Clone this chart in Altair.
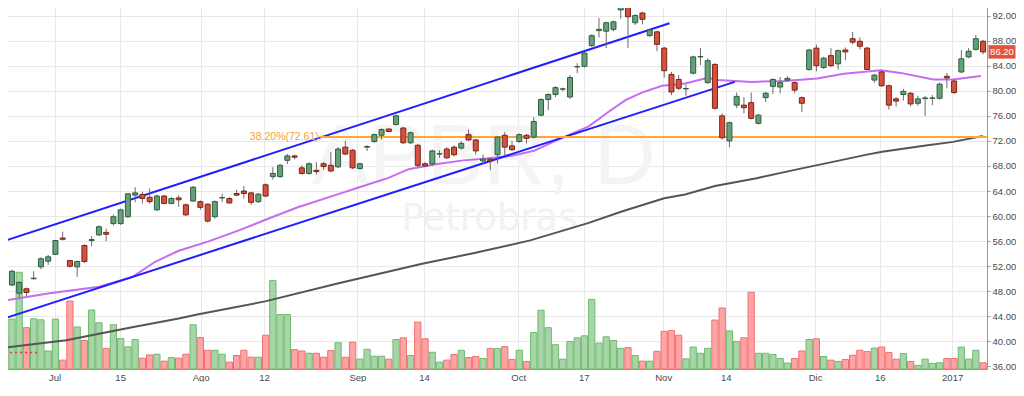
import altair as alt
import pandas as pd

# ---------------- data ----------------
opens = [49.0, 49.0, 47.7, 48.4, 50.0, 51.9, 52.8, 53.9, 56.5, 52.9,
         51.9, 55.3, 56.1, 57.0, 57.4, 58.8, 58.8, 59.9, 63.35, 63.46,
         63.0, 61.0, 63.2, 62.0, 62.9, 61.8, 62.4, 62.3, 61.9, 59.9,
         62.9, 62.8, 63.6, 64.0, 63.7, 62.3, 65.0, 66.3, 66.3, 68.9,
         69.6, 67.7, 66.8, 67.3, 68.35, 68.1, 67.85, 71.0, 70.5, 67.6,
         71.0, 71.9, 72.9, 73.9, 74.6, 74.05, 71.7, 71.3, 68.35, 68.35,
         69.9, 70.7, 71.0, 70.85, 73.0, 72.15, 68.8, 69.1, 69.8, 72.9,
         71.2, 71.9, 72.9, 72.6, 76.1, 78.6, 79.4, 80.25, 79.0, 83.8,
         83.9, 87.2, 89.6, 89.5, 89.8, 92.9, 93.6, 90.85, 92.4, 88.8,
         89.4, 86.8, 82.6, 81.8, 80.3, 82.8, 85.4, 81.3, 84.2, 76.0,
         72.0, 77.7, 77.7, 78.1, 74.8, 78.9, 80.7, 80.6, 81.7, 81.3,
         78.9, 83.4, 86.8, 83.7, 85.6, 84.3, 86.5, 88.3, 87.9, 86.8,
         81.7, 83.0, 80.8, 78.7, 79.4, 79.6, 78.0, 78.75, 78.8, 78.8,
         82.3, 81.55, 83.0, 85.4, 86.6, 87.9]
closes = [48.3, 51.2, 49.4, 47.8, 50.1, 53.2, 53.5, 56.1, 56.3, 52.0,
          52.75, 52.75, 56.25, 58.3, 57.1, 59.9, 61.0, 63.55, 63.7, 62.8,
          62.3, 63.2, 62.0, 62.8, 62.6, 60.2, 64.6, 61.4, 59.2, 62.3,
          62.95, 62.1, 63.35, 63.6, 62.2, 63.5, 63.2, 66.8, 68.1, 69.6,
          69.4, 66.8, 68.35, 67.1, 67.9, 67.2, 70.7, 69.9, 67.7, 68.35,
          71.1, 73.0, 73.8, 73.5, 76.0, 71.7, 73.3, 68.1, 68.0, 70.4,
          69.95, 69.3, 69.8, 71.6, 72.15, 70.4, 69.1, 68.8, 72.6, 71.0,
          70.6, 73.0, 72.4, 75.1, 78.6, 79.4, 80.5, 80.3, 82.1, 83.85,
          86.0, 88.8, 89.8, 90.85, 91.0, 93.6, 91.8, 92.0, 91.4, 89.7,
          87.4, 83.2, 79.8, 80.4, 80.35, 85.4, 85.45, 84.8, 77.2, 72.5,
          74.9, 79.1, 77.3, 75.6, 76.1, 79.6, 81.8, 81.3, 81.97, 80.1,
          78.0, 86.5, 84.0, 85.2, 84.0, 86.4, 86.2, 87.75, 87.1, 83.4,
          82.5, 80.8, 77.7, 78.35, 79.9, 77.9, 78.7, 78.85, 78.85, 81.05,
          82.05, 79.7, 85.1, 86.3, 88.3, 86.2]
highs = [49.3, 51.4, 49.6, 48.6, 51.2, 53.4, 53.8, 56.2, 57.5, 53.0,
         52.9, 55.5, 56.8, 58.5, 58.0, 60.25, 61.2, 63.7, 64.6, 63.9,
         64.4, 63.4, 63.4, 63.0, 63.3, 62.0, 64.8, 62.5, 62.0, 62.5,
         63.6, 63.0, 64.2, 64.8, 63.9, 63.7, 65.2, 67.8, 68.3, 69.9,
         69.8, 68.1, 68.6, 68.6, 68.6, 70.2, 71.0, 72.0, 70.7, 68.5,
         71.3, 73.2, 74.0, 74.0, 76.2, 74.2, 73.5, 71.5, 68.6, 70.6,
         70.5, 71.0, 71.3, 72.0, 73.8, 72.3, 69.8, 69.3, 72.8, 73.4,
         72.0, 73.2, 73.1, 75.8, 78.8, 79.6, 80.7, 80.5, 82.5, 84.4,
         86.2, 89.0, 91.6, 91.0, 91.2, 93.8, 93.8, 92.2, 92.6, 89.9,
         89.6, 87.0, 83.0, 82.5, 81.0, 85.6, 86.8, 85.2, 84.4, 76.4,
         75.1, 79.7, 79.0, 79.7, 76.3, 79.8, 82.0, 82.2, 82.3, 81.5,
         79.1, 86.7, 87.35, 85.4, 86.8, 86.6, 86.9, 89.4, 88.5, 87.0,
         82.7, 83.2, 81.0, 79.0, 80.3, 79.8, 79.2, 79.2, 79.3, 81.3,
         82.85, 81.8, 86.5, 86.8, 88.9, 88.1]
lows = [47.9, 48.8, 46.9, 47.2, 49.9, 51.5, 52.2, 53.8, 56.1, 51.8,
        50.3, 52.5, 55.2, 56.8, 56.0, 58.5, 58.6, 59.7, 62.2, 62.0,
        62.0, 60.8, 61.9, 61.9, 61.5, 60.0, 62.3, 61.0, 59.0, 59.6,
        62.2, 62.0, 63.2, 62.8, 61.8, 62.1, 63.0, 65.8, 66.1, 68.3,
        69.1, 66.6, 66.6, 66.6, 67.4, 67.0, 67.7, 69.7, 67.5, 67.4,
        70.4, 71.7, 72.2, 73.4, 74.5, 71.5, 71.5, 67.8, 67.8, 68.0,
        69.3, 69.1, 69.5, 70.6, 72.0, 69.8, 68.3, 67.3, 68.4, 69.7,
        70.4, 71.7, 71.6, 72.4, 75.9, 76.9, 79.0, 79.9, 78.7, 82.8,
        83.7, 87.0, 88.5, 86.8, 89.5, 91.5, 86.8, 90.5, 90.6, 88.6,
        86.3, 82.1, 79.3, 80.1, 79.2, 82.6, 84.1, 81.1, 77.0, 72.2,
        71.0, 77.2, 76.4, 75.4, 74.6, 78.2, 79.5, 79.6, 81.5, 79.6,
        76.6, 83.2, 83.1, 83.5, 83.8, 83.4, 84.9, 87.4, 86.6, 83.3,
        81.3, 80.6, 77.0, 77.5, 78.45, 77.5, 77.6, 76.0, 77.7, 78.6,
        80.4, 79.5, 82.8, 85.2, 86.4, 85.8]
# volume (thousands of shares)
volumes = [360, 507, 983, 420, 510, 500, 183, 507, 90, 690,
           427, 290, 600, 470, 210, 450, 310, 225, 300, 110,
           143, 150, 80, 117, 110, 150, 450, 320, 190, 190,
           150, 70, 137, 190, 120, 120, 343, 900, 553, 553,
           197, 183, 160, 160, 120, 187, 267, 120, 273, 100,
           200, 130, 130, 100, 300, 317, 137, 477, 307, 170,
           70, 90, 147, 190, 117, 127, 107, 207, 207, 227,
           97, 190, 77, 370, 597, 420, 247, 100, 280, 317,
           337, 707, 263, 327, 290, 210, 217, 137, 80, 80,
           180, 383, 390, 343, 103, 223, 160, 210, 497, 620,
           387, 280, 317, 780, 160, 160, 147, 107, 60, 107,
           183, 300, 307, 127, 90, 77, 97, 140, 190, 177,
           213, 223, 167, 100, 157, 77, 37, 100, 57, 63,
           107, 107, 223, 100, 190, 63]

# moving averages (sampled along the drawn curves)
fast_ma_idx = [-0.64, 6.21, 13.05, 17.58, 20.82, 24.01, 28.12, 32.23, 36.34, 40.45,
               45.93, 49.36, 52.86, 55.75, 59.22, 63.27, 66.16, 70.18, 73.1, 75.99,
               80.59, 83.33, 85.66, 87.99, 90.73, 93.88, 97.03, 98.4, 103.05, 107.57,
               112.1, 115.79, 120.86, 123.6, 128.12, 130.86, 134.7]
fast_ma_val = [46.39, 47.68, 48.72, 50.27, 52.75, 54.46, 55.97, 57.67, 59.58, 61.40,
               63.46, 64.75, 66.05, 67.49, 68.22, 68.89, 69.15, 69.66, 70.44, 71.99,
               74.32, 76.65, 78.51, 79.75, 80.79, 81.15, 82.07, 81.72, 81.41, 81.56,
               81.97, 82.70, 83.27, 82.85, 81.81, 81.81, 82.34]
slow_ma_idx = [-0.64, 8.49, 17.58, 24.01, 26.75, 35.93, 45.93, 57.44, 64.97, 72.51,
               76.56, 80.59, 85.25, 91.0, 93.88, 98.0, 103.75, 109.5, 115.25, 118.8,
               121.07, 126.85, 130.86, 134.97]
slow_ma_val = [38.90, 40.19, 42.25, 43.65, 44.33, 46.39, 49.23, 52.34, 54.15, 56.12,
               57.52, 58.91, 60.78, 62.84, 63.46, 64.81, 66.05, 67.49, 68.89, 69.77,
               70.28, 71.22, 71.84, 72.77]

# trend channel drawn on the chart
upper_idx = [-3.0, 91.73]
upper_val = [54.92, 90.76]
lower_idx = [-3.0, 100.73]
lower_val = [42.57, 81.41]

fib_level = 72.61
fib_idx = [43.47, 135.52]
fib_label = "38.20%(72.61)"

dotted_idx = [-0.64, 4.7]
dotted_val = [38.22, 38.22]

tick_pos = [6.89, 15.93, 27.03, 35.79, 48.67, 57.85, 70.86, 79.9, 90.86, 99.5,
            111.82, 120.73, 130.73]
tick_lab = ["Jul", "15", "Ago", "12", "Sep", "14", "Oct", "17", "Nov", "14",
            "Dic", "16", "2017"]
price_ticks = [36, 40, 44, 48, 52, 56, 60, 64, 68, 72, 76, 80, 84, 88, 92]
last_price = 86.20

# ---------------- tables ----------------
n = len(opens)
candles = pd.DataFrame({
    "i": list(range(n)),
    "o": opens, "c": closes, "h": highs, "l": lows, "v": volumes,
})
candles["dir"] = ["up" if c >= o else "down" for o, c in zip(opens, closes)]

fast = pd.DataFrame({"i": fast_ma_idx, "p": fast_ma_val})
slow = pd.DataFrame({"i": slow_ma_idx, "p": slow_ma_val})
upper = pd.DataFrame({"i": upper_idx, "p": upper_val})
lower = pd.DataFrame({"i": lower_idx, "p": lower_val})
fib = pd.DataFrame({"i": fib_idx, "p": [fib_level, fib_level]})
fib_txt = pd.DataFrame({"i": [fib_idx[0]], "p": [fib_level], "t": [fib_label]})
dotted = pd.DataFrame({"i": dotted_idx, "p": dotted_val})
wm1 = pd.DataFrame({"i": [66.1], "p": [69.2], "t": ["APBR, D"]})
wm2 = pd.DataFrame({"i": [66.9], "p": [57.7], "t": ["Petrobras"]})
last = pd.DataFrame({"p": [last_price], "t": [f"{last_price:.2f}"]})

# ---------------- styling ----------------
FONT = "Liberation Sans"
GRID = "#e9e9e9"
AXC = "#9a9a9a"
LBL = "#4a4a4a"
XDOM = [-0.6486, 135.54]
YDOM = [35.6, 94.48]
W, H = 987, 369

label_expr = " : ".join(f"datum.value == {v} ? '{l}'" for v, l in zip(tick_pos, tick_lab)) + " : ''"

x_axis = alt.Axis(values=tick_pos, labelExpr=label_expr, grid=True, gridColor=GRID,
                  ticks=False, domainColor=AXC, labelColor=LBL, labelFontSize=9.5,
                  labelFont=FONT, labelPadding=3, title=None, labelAngle=0,
                  labelFlush=False, labelOverlap=False)
y_axis = alt.Axis(orient="right", values=price_ticks, format=".2f", grid=True,
                  gridColor=GRID, tickColor=AXC, tickSize=3, domainColor=AXC,
                  labelColor=LBL, labelFontSize=9.5, labelFont=FONT, labelPadding=2,
                  title=None, labelFlush=False, labelOverlap=False)


def X(field="i"):
    return alt.X(f"{field}:Q",
                 scale=alt.Scale(domain=XDOM, nice=False, zero=False, padding=0),
                 axis=x_axis)


def Y(field):
    return alt.Y(f"{field}:Q",
                 scale=alt.Scale(domain=YDOM, nice=False, zero=False, padding=0),
                 axis=y_axis)


dir_fill = alt.Scale(domain=["up", "down"], range=["#65a07a", "#d6503d"])
dir_stroke = alt.Scale(domain=["up", "down"], range=["#2e5e3e", "#7a2418"])
vol_fill = alt.Scale(domain=["up", "down"], range=["#a8d5a8", "#ffa4a4"])
vol_stroke = alt.Scale(domain=["up", "down"], range=["#6dbb6d", "#f07070"])

# volume (own hidden scale)
vol_layer = alt.Chart(candles).mark_bar(size=6.25, strokeWidth=1, orient="vertical", clip=True).encode(
    x=X(),
    y=alt.Y("v:Q", scale=alt.Scale(domain=[0, 3750], nice=False, padding=0), axis=None),
    fill=alt.Fill("dir:N", scale=vol_fill, legend=None),
    stroke=alt.Stroke("dir:N", scale=vol_stroke, legend=None),
)

wmark1 = alt.Chart(wm1).mark_text(fontSize=86, font=FONT, color="#f4f4f4",
                                  align="center", baseline="middle").encode(
    x=X(), y=Y("p"), text="t:N")
wmark2 = alt.Chart(wm2).mark_text(fontSize=37, font="DejaVu Sans", color="#f2f2f2",
                                  align="center", baseline="alphabetic").encode(
    x=X(), y=Y("p"), text="t:N")

slow_line = alt.Chart(slow).mark_line(color="#555555", strokeWidth=2, clip=True).encode(
    x=X(), y=Y("p"), order="i:Q")
fast_line = alt.Chart(fast).mark_line(color="#c46cf2", strokeWidth=2, clip=True).encode(
    x=X(), y=Y("p"), order="i:Q")
upper_line = alt.Chart(upper).mark_line(color="#1f1fff", strokeWidth=2, clip=True).encode(
    x=X(), y=Y("p"))
lower_line = alt.Chart(lower).mark_line(color="#1f1fff", strokeWidth=2, clip=True).encode(
    x=X(), y=Y("p"))
fib_line = alt.Chart(fib).mark_line(color="#ffa733", strokeWidth=2, clip=True).encode(
    x=X(), y=Y("p"))
fib_text = alt.Chart(fib_txt).mark_text(color="#f5a13a", fontSize=10.5, font=FONT,
                                        align="right", baseline="middle", dx=-1).encode(
    x=X(), y=Y("p"), text="t:N")
dotted_line = alt.Chart(dotted).mark_line(color="#e53935", strokeWidth=1.5,
                                          strokeDash=[2, 3], clip=True).encode(
    x=X(), y=Y("p"))

wicks = alt.Chart(candles).mark_rule(strokeWidth=1, color="#6a6a6a", clip=True).encode(
    x=X(), y=Y("l"), y2="h:Q")
bodies = alt.Chart(candles).mark_bar(size=5, strokeWidth=1, orient="vertical", clip=True).encode(
    x=X(), y=Y("o"), y2="c:Q",
    fill=alt.Fill("dir:N", scale=dir_fill, legend=None),
    stroke=alt.Stroke("dir:N", scale=dir_stroke, legend=None),
)

last_box = alt.Chart(last).mark_point(shape="M-1,-0.5H1V0.5H-1Z", size=729, filled=True,
                                      color="#e0533f", opacity=1).encode(
    x=alt.value(W + 15), y=Y("p"))
last_text = alt.Chart(last).mark_text(color="white", fontSize=9.5, font=FONT,
                                      align="center", baseline="middle").encode(
    x=alt.value(W + 15), y=Y("p"), text="t:N")

price = alt.layer(wmark1, wmark2, slow_line, fast_line, upper_line, lower_line,
                  fib_line, fib_text, dotted_line, wicks, bodies, last_box, last_text)

chart = alt.layer(vol_layer, price).resolve_scale(
    y="independent", fill="independent", stroke="independent"
).properties(
    width=W, height=H,
    padding={"left": -8, "top": -8, "right": 29, "bottom": 13},
    autosize=alt.AutoSizeParams(type="none"),
    background="white",
).configure_view(strokeWidth=0)

chart.save("out.html", embed_options={"renderer": "svg", "actions": False})
